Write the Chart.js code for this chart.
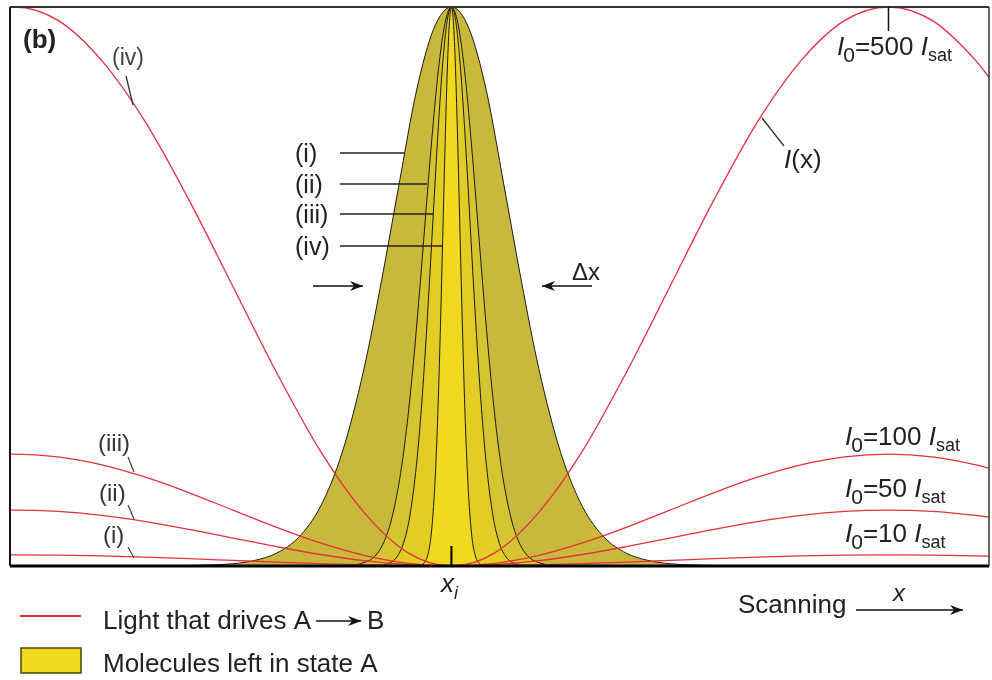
<!DOCTYPE html>
<html>
<head>
<meta charset="utf-8">
<script src="https://cdn.jsdelivr.net/npm/chart.js@4.4.1/dist/chart.umd.min.js"></script>
<style>
body{margin:0;background:#fff;}
#wrap{width:992px;height:680px;}
</style>
</head>
<body>
<div id="wrap"><canvas id="myChart" width="992" height="680"></canvas></div>
<script>
// scan position: x_i = 0, 1 = distance from x_i to the light maximum
const lightX = [-1.01,-1,-0.9,-0.8,-0.7,-0.6,-0.5,-0.4,-0.3,-0.2,-0.1,0,0.1,0.2,0.3,0.4,0.5,0.6,0.7,0.8,0.9,1,1.1,1.2,1.23];
// light intensity I(x) in units of I_sat
const light10  = [10,10,9.76,9.05,7.94,6.55,5,3.45,2.06,0.95,0.24,0,0.24,0.95,2.06,3.45,5,6.55,7.94,9.05,9.76,10,9.76,9.05,8.75];
const light50  = [50,50,48.8,45.2,39.7,32.7,25,17.3,10.3,4.8,1.2,0,1.2,4.8,10.3,17.3,25,32.7,39.7,45.2,48.8,50,48.8,45.2,43.7];
const light100 = [100,100,97.6,90.5,79.4,65.5,50,34.5,20.6,9.5,2.4,0,2.4,9.5,20.6,34.5,50,65.5,79.4,90.5,97.6,100,97.6,90.5,87.5];
const light500 = [500,500,488,452,397,327,250,173,103,48,12,0,12,48,103,173,250,327,397,452,488,500,488,452,437];

// fraction of molecules left in state A, curves (i)..(iv)
const molX1 = [-0.6,-0.55,-0.5,-0.45,-0.4,-0.35,-0.3,-0.25,-0.2,-0.16,-0.12,-0.08,-0.04,0,0.04,0.08,0.12,0.16,0.2,0.25,0.3,0.35,0.4,0.45,0.5,0.55,0.6];
const molA1 = [0.001,0.002,0.004,0.010,0.023,0.051,0.106,0.203,0.353,0.510,0.682,0.850,0.962,1,0.962,0.850,0.682,0.510,0.353,0.203,0.106,0.051,0.023,0.010,0.004,0.002,0.001];
const molX2 = [-0.22,-0.2,-0.18,-0.16,-0.14,-0.12,-0.105,-0.09,-0.075,-0.06,-0.045,-0.03,-0.015,0,0.015,0.03,0.045,0.06,0.075,0.09,0.105,0.12,0.14,0.16,0.18,0.2,0.22];
const molA2 = [0.002,0.006,0.014,0.034,0.075,0.148,0.230,0.339,0.471,0.617,0.762,0.886,0.970,1,0.970,0.886,0.762,0.617,0.471,0.339,0.230,0.148,0.075,0.034,0.014,0.006,0.002];
const molX3 = [-0.155,-0.14,-0.125,-0.11,-0.095,-0.08,-0.07,-0.06,-0.05,-0.04,-0.03,-0.02,-0.01,0,0.01,0.02,0.03,0.04,0.05,0.06,0.07,0.08,0.095,0.11,0.125,0.14,0.155];
const molA3 = [0.002,0.006,0.016,0.040,0.090,0.181,0.269,0.381,0.511,0.651,0.785,0.898,0.974,1,0.974,0.898,0.785,0.651,0.511,0.381,0.269,0.181,0.090,0.040,0.016,0.006,0.002];
const molX4 = [-0.068,-0.061,-0.054,-0.047,-0.04,-0.035,-0.03,-0.025,-0.02,-0.015,-0.01,-0.005,0,0.005,0.01,0.015,0.02,0.025,0.03,0.035,0.04,0.047,0.054,0.061,0.068];
const molA4 = [0.002,0.007,0.020,0.051,0.117,0.193,0.298,0.432,0.584,0.739,0.874,0.967,1,0.967,0.874,0.739,0.584,0.432,0.298,0.193,0.117,0.051,0.020,0.007,0.002];

const I0labels = ['10','50','100','500'];

function pts(xs, ys){
    return xs.map((v,i)=>({x:v, y:ys[i]}));
}

const RED = '#e6303e';
const FONT = '"Liberation Sans", Arial, sans-serif';

function lightSet(ys){
    return {data:pts(lightX, ys), yAxisID:'y', borderColor:RED, borderWidth:1.3, pointRadius:0, fill:false, order:0};
}
function molSet(xs, ys, col, ord){
    return {data:pts(xs, ys), yAxisID:'y2', borderColor:'#1a1a1a', borderWidth:1, pointRadius:0,
        backgroundColor:col, fill:'origin', order:ord};
}

function seg(ctx,x1,y1,x2,y2,w,c){
    ctx.strokeStyle=c; ctx.lineWidth=w;
    ctx.beginPath(); ctx.moveTo(x1,y1); ctx.lineTo(x2,y2); ctx.stroke();
}
function arrow(ctx,x1,y,x2){
    seg(ctx,x1,y,x2,y,1.6,'#111');
    const d = x2>x1 ? 1 : -1;
    ctx.fillStyle='#111';
    ctx.beginPath(); ctx.moveTo(x2,y); ctx.lineTo(x2-d*13,y-5); ctx.lineTo(x2-d*9,y); ctx.lineTo(x2-d*13,y+5); ctx.closePath(); ctx.fill();
}
function txt(ctx,s,x,y,size,style,col){
    ctx.font=(style||'')+' '+size+'px '+FONT;
    ctx.fillStyle=col||'#222';
    ctx.fillText(s,x,y);
    return x+ctx.measureText(s).width;
}
function i0label(ctx,x,y,val){
    let p = txt(ctx,'I',x,y,26,'italic');
    p = txt(ctx,'0',p-1,y+7,21);
    p = txt(ctx,'='+val+' ',p,y,26);
    p = txt(ctx,'I',p,y,26,'italic');
    txt(ctx,'sat',p,y+6,18);
}

const notes = {
    id:'notes',
    afterDatasetsDraw(chart){
        const {ctx, chartArea:a, scales:{x, y}} = chart;
        ctx.save();
        ctx.textBaseline='alphabetic';
        // frame
        seg(ctx,a.left,a.top,a.right,a.top,2,'#333');
        seg(ctx,a.left,a.top,a.left,a.bottom,2,'#111');
        seg(ctx,a.right,a.top,a.right,a.bottom,1.5,'#333');
        seg(ctx,a.left,a.bottom,a.right,a.bottom,3,'#000');

        txt(ctx,'(b)',23,48,26,'bold','#222');

        // tick at x_i and at the light maximum
        const xi = x.getPixelForValue(0);
        seg(ctx,xi,a.bottom-20,xi,a.bottom,2,'#000');
        const xm = x.getPixelForValue(1);
        seg(ctx,xm,a.top,xm,a.top+24,1.5,'#111');

        // I0 labels on the right
        i0label(ctx,837,55,I0labels[3]);
        i0label(ctx,845,445,I0labels[2]);
        i0label(ctx,845,497,I0labels[1]);
        i0label(ctx,845,542,I0labels[0]);

        // I(x)
        seg(ctx,762,118,784,146,1.3,'#333');
        let p = txt(ctx,'I',784,168,26,'italic');
        txt(ctx,'(x)',p,168,26);

        // curve labels on the left
        txt(ctx,'(iv)',112,65,23,'','#444');
        seg(ctx,126,76,133,105,1.3,'#333');
        txt(ctx,'(iii)',98,451,24,'','#333');
        seg(ctx,128,457,134,472,1.2,'#444');
        txt(ctx,'(ii)',99,501,24,'','#333');
        seg(ctx,128,505,134,519,1.2,'#444');
        txt(ctx,'(i)',103,543,24,'','#333');
        seg(ctx,128,547,134,558,1.2,'#444');

        // labels of the bell curves
        const rows = [['(i)',153,404],['(ii)',184,427],['(iii)',214,433],['(iv)',246,443]];
        rows.forEach(r=>{
            txt(ctx,r[0],295,r[1]+9,25,'','#222');
            seg(ctx,340,r[1],r[2],r[1],1.4,'#222');
        });

        // delta x
        arrow(ctx,313,286,363);
        arrow(ctx,592,286,542);
        txt(ctx,'\u0394x',572,280,24,'','#222');

        // x_i
        p = txt(ctx,'x',441,592,26,'italic','#222');
        txt(ctx,'i',p,599,18,'italic','#222');

        // scanning
        txt(ctx,'Scanning',738,613,26,'','#222');
        arrow(ctx,856,610,963);
        txt(ctx,'x',893,601,24,'italic','#222');

        // legend
        seg(ctx,20,616,81,616,2,RED);
        p = txt(ctx,'Light that drives A',103,629,26,'','#222');
        arrow(ctx,p+5,621,p+50);
        txt(ctx,'B',p+56,629,26,'','#222');
        ctx.fillStyle='#f0d820';
        ctx.fillRect(21,648,60,25);
        ctx.strokeStyle='#4b4510'; ctx.lineWidth=1.5;
        ctx.strokeRect(21,648,60,25);
        txt(ctx,'Molecules left in state A',103,672,26,'','#222');
        ctx.restore();
    }
};

const config = {
    type:'line',
    data:{
        datasets:[
            lightSet(light10),
            lightSet(light50),
            lightSet(light100),
            lightSet(light500),
            molSet(molX4, molA4, '#f1d91f', 1),
            molSet(molX3, molA3, '#e2cd25', 2),
            molSet(molX2, molA2, '#d6c430', 3),
            molSet(molX1, molA1, '#c8b83b', 4)
        ]
    },
    options:{
        responsive:false,
        animation:false,
        layout:{padding:{left:10, right:3, top:7, bottom:114}},
        elements:{line:{cubicInterpolationMode:'monotone'}},
        plugins:{legend:{display:false}, tooltip:{enabled:false}},
        scales:{
            x:{type:'linear', min:-1.01, max:1.23, display:false},
            y:{min:0, max:500, display:false},
            y2:{min:0, max:1, display:false}
        }
    },
    plugins:[notes]
};

const myChart = new Chart(document.getElementById('myChart'), config);
</script>
</body>
</html>
